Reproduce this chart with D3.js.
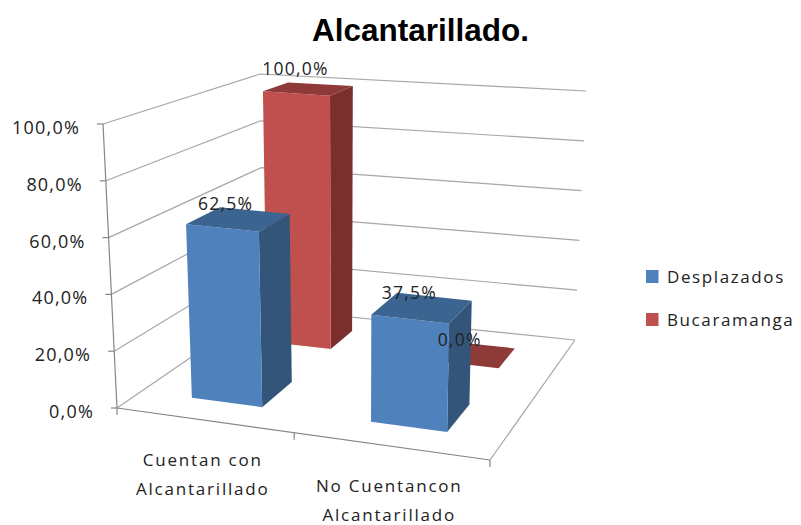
<!DOCTYPE html>
<html><head><meta charset="utf-8">
<script src="https://cdn.jsdelivr.net/npm/d3@7"></script>
<style>
html,body{margin:0;padding:0;background:#fff}
svg{display:block}
text{font-family:"Open Sans",sans-serif;fill:#222}
</style></head><body>
<svg id="c" width="801" height="525"></svg>
<script>
const title = "Alcantarillado.";
const categories = ["Cuentan con|Alcantarillado", "No Cuentancon|Alcantarillado"];
const seriesNames = ["Desplazados", "Bucaramanga"];
const desplazados = [0.625, 0.375];
const bucaramanga = [1.0, 0.0];
const valueTicks = [0, 0.2, 0.4, 0.6, 0.8, 1.0];

const seriesColors = {
  Desplazados: {front:"#4f81bd", side:"#335579", top:"#3b6590"},
  Bucaramanga: {front:"#c0504d", side:"#7a2f2e", top:"#8e3a38"}
};

// Corners of the chart's 3D box as they appear on screen: [floor, top]
const box = {
  fl: [[117,408],[103,124]],
  fr: [[490,460],[498,160]],
  bl: [[263,308],[260,74]],
  br: [[575,340],[586,91]]
};
const lerp = (a,b,t)=>a+(b-a)*t;
const lerp2 = (a,b,t)=>[lerp(a[0],b[0],t),lerp(a[1],b[1],t)];
function project(u,v,w){
  const f = lerp2(box.fl[0],box.fr[0],u), b = lerp2(box.bl[0],box.br[0],u);
  const ft = lerp2(box.fl[1],box.fr[1],u), bt = lerp2(box.bl[1],box.br[1],u);
  return lerp2(lerp2(f,b,v), lerp2(ft,bt,v), w);
}

const xBand = d3.scaleBand().domain(categories).range([-0.012,0.988]).paddingInner(0.6).paddingOuter(0.3);
const depthBand = d3.scaleBand().domain(seriesNames).range([0,1]).paddingInner(0.5).paddingOuter(0.25);
// foreshortening of the width and depth axes
const xWarp = d3.scaleLinear().domain([0.138,0.338,0.638,0.838]).range([0.138,0.332,0.632,0.842]);
const depthWarp = d3.scaleLinear().domain([0.125,0.375,0.625,0.875]).range([0.17,0.405,0.715,0.885]);
const val = d3.scaleLinear().domain([0,1]).range([0,1]);
const fmt = d3.formatLocale({decimal:",",thousands:".",grouping:[3],currency:["",""]}).format(".1%");

const svg = d3.select("#c");
const line = d3.line();
const gridC = "#a6a6a6", axisC = "#868686";

// gridlines
const grid = svg.append("g").attr("fill","none").attr("stroke",gridC).attr("stroke-width",1.2);
grid.selectAll("path").data(valueTicks).join("path")
  .attr("d",t=>line([project(0,0,val(t)),project(0,1,val(t)),project(1,1,val(t))]));
grid.append("path").attr("d",line([project(1,0,0),project(1,1,0)]));

// axes
const ax = svg.append("g").attr("fill","none").attr("stroke",axisC).attr("stroke-width",1.2);
ax.append("path").attr("d",line([project(0,0,0),project(0,0,1)]));
ax.append("path").attr("d",line([project(0,0,0),project(1,0,0)]));
ax.selectAll(".yt").data(valueTicks).join("path").attr("class","yt")
  .attr("d",t=>{const p=project(0,0,val(t));return line([[p[0]-6,p[1]],p]);});
ax.selectAll(".xt").data([0,0.475,1]).join("path").attr("class","xt")
  .attr("d",u=>{const p=project(u,0,0);return line([p,[p[0],p[1]+7]]);});

// y labels
svg.append("g").selectAll("text").data(valueTicks).join("text")
  .attr("text-anchor","end").attr("font-size",18).attr("letter-spacing",1.2)
  .attr("x",t=>project(0,0,val(t))[0]-23)
  .attr("y",t=>project(0,0,val(t))[1]+10)
  .text(fmt);

// bars, back series first
const rows = [];
[["Bucaramanga",bucaramanga],["Desplazados",desplazados]].forEach(([s,vals])=>{
  vals.forEach((value,i)=>rows.push({s,value,cat:categories[i]}));
});
const geom = d=>{
  const x0=xBand(d.cat), x1=x0+xBand.bandwidth();
  const d0=depthBand(d.s), d1=d0+depthBand.bandwidth();
  return {u0:xWarp(x0),u1:xWarp(x1),v0:depthWarp(d0),v1:depthWarp(d1),w:val(d.value)};
};
const bars = svg.append("g").selectAll("g").data(rows).join("g");
const face = pts=>line(pts)+"Z";
bars.each(function(d){
  const g=geom(d), c=seriesColors[d.s], sel=d3.select(this);
  if(d.value>0){
    sel.append("path").attr("fill",c.side).attr("d",face([
      project(g.u1,g.v0,0),project(g.u1,g.v1,0),project(g.u1,g.v1,g.w),project(g.u1,g.v0,g.w)]));
    sel.append("path").attr("fill",c.front).attr("d",face([
      project(g.u0,g.v0,0),project(g.u1,g.v0,0),project(g.u1,g.v0,g.w),project(g.u0,g.v0,g.w)]));
  }
  sel.append("path").attr("fill",c.top).attr("d",face([
    project(g.u0,g.v0,g.w),project(g.u1,g.v0,g.w),project(g.u1,g.v1,g.w),project(g.u0,g.v1,g.w)]));
});

// data labels
svg.append("g").selectAll("text").data(rows).join("text")
  .attr("text-anchor","middle").attr("font-size",17.5).attr("letter-spacing",1.2)
  .attr("x",d=>{const g=geom(d);return project((g.u0+g.u1)/2,(g.v0+g.v1)/2,g.w)[0]-13;})
  .attr("y",d=>{const g=geom(d);return project((g.u0+g.u1)/2,(g.v0+g.v1)/2,g.w)[1]-9-(d.value===1?5:0);})
  .text(d=>fmt(d.value));

// category labels
const catLabels = svg.append("g").selectAll("text").data(categories).join("text")
  .attr("text-anchor","middle").attr("font-size",17).attr("letter-spacing",1.8);
catLabels.each(function(c){
  const p=project(xBand(c)+xBand.bandwidth()/2,0,0);
  d3.select(this).selectAll("tspan").data(c.split("|")).join("tspan")
    .attr("x",p[0]-3).attr("y",(t,i)=>p[1]+46+i*29).text(t=>t);
});

// title
svg.append("text").attr("x",420.5).attr("y",41).attr("text-anchor","middle")
  .attr("font-size",31.5).attr("font-weight","bold")
  .style("font-family","'Liberation Sans',Arial,sans-serif").style("fill","#000").text(title);

// legend
const lg = svg.append("g").selectAll("g").data(seriesNames).join("g")
  .attr("transform",(d,i)=>`translate(646,${270+i*43})`);
lg.append("rect").attr("width",12.5).attr("height",13).attr("fill",d=>seriesColors[d].front);
lg.append("text").attr("x",21).attr("y",13).attr("font-size",17).attr("letter-spacing",1.6).text(d=>d);
</script>
</body></html>
